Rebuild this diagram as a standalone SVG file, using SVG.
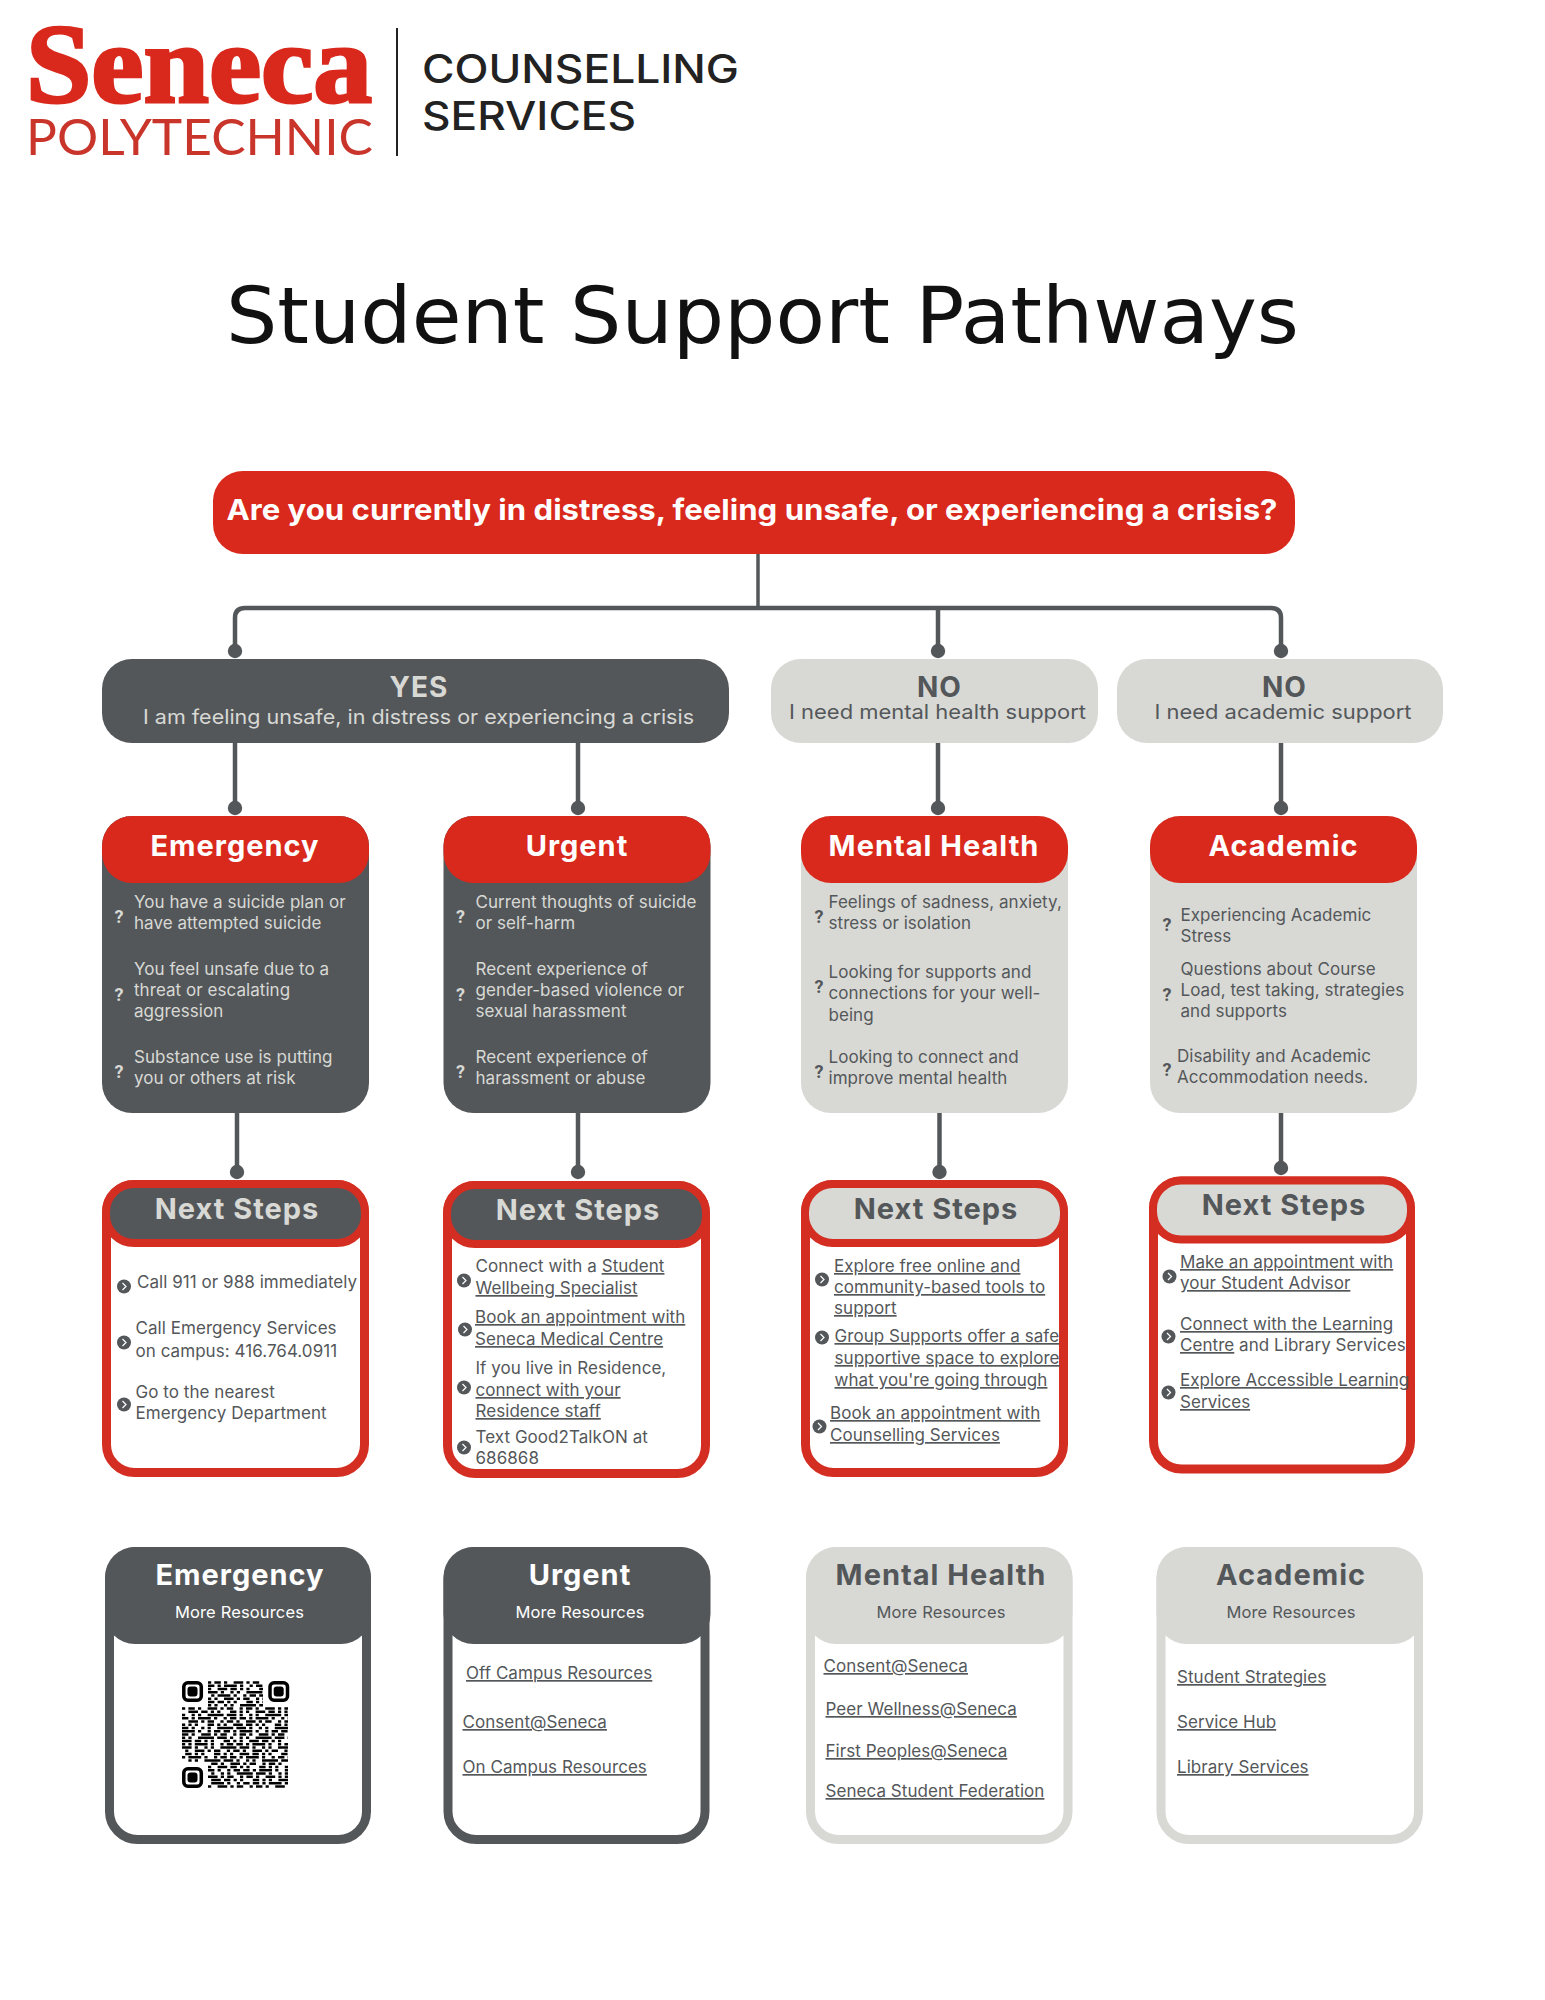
<svg xmlns="http://www.w3.org/2000/svg" width="1545" height="2000" viewBox="0 0 1545 2000">
<style>
text{font-family:Inter,"Noto Sans","Liberation Sans",sans-serif}
.red{fill:#d9281c}.dkf{fill:#54575a}.ltf{fill:#d8d9d5}
.b{font-size:17px;letter-spacing:.05px;fill:#54575a}
.bl{font-size:17px;letter-spacing:.05px;fill:#d8d9d5}
.u{text-decoration:underline}
.h{font-size:29px;font-weight:700;letter-spacing:1px;text-anchor:middle;fill:#fff}
.hd{fill:#54575a}.hl{fill:#d8d9d5}
.mr{font-size:16.5px;letter-spacing:.15px;text-anchor:middle}
.q{font-family:Roboto,sans-serif;font-size:18px;font-weight:700;text-anchor:middle}
.sub{font-size:20px}
.box{fill:#fff;stroke-width:9}
.r{stroke:#d42e22}.sd{stroke:#54575a}.sl{stroke:#d8d9d5}
.con{fill:none;stroke:#54575a;stroke-width:4.5;marker-end:url(#dot)}
.qr path{fill:none;stroke:#000;stroke-width:2.4}
.qa{stroke-dasharray:3.2 3.2 6.4 3.2 3.2 6.4 9.6 3.2 3.2 3.2 6.4 6.4}
.qb{stroke-dasharray:6.4 3.2 3.2 3.2 12.8 3.2 3.2 6.4 3.2 3.2 6.4 3.2}
.qc{stroke-dasharray:3.2 6.4 9.6 3.2 6.4 3.2 3.2 3.2 3.2 9.6 6.4 3.2 3.2 3.2}
.qd{stroke-dasharray:9.6 3.2 3.2 6.4 3.2 3.2 3.2 6.4 16 3.2}
</style>
<defs>
<marker id="dot" markerUnits="userSpaceOnUse" markerWidth="16" markerHeight="16" refX="8" refY="8"><circle cx="8" cy="8" r="7.2" fill="#54575a"/></marker>
<symbol id="bul" viewBox="-7.5 -7.5 15 15" overflow="visible"><circle r="7" fill="#54575a"/><path d="M-1.5 -3.5L2 0L-1.5 3.5" fill="none" stroke="#fff" stroke-width="1.2"/></symbol>
</defs>
<rect width="1545" height="2000" fill="#fff"/>

<g id="logo">
<text x="26" y="102" font-size="112" font-weight="700" textLength="346" lengthAdjust="spacingAndGlyphs" fill="#d9281c" stroke="#d9281c" stroke-width="3" style="font-family:'Liberation Serif',serif">Seneca</text>
<text x="26" y="155" font-size="50" font-weight="400" textLength="347" lengthAdjust="spacingAndGlyphs" fill="#c9352b" style="font-family:Lato,sans-serif">POLYTECHNIC</text>
<rect x="396" y="28" width="2" height="128" fill="#222"/>
<text x="422" y="83" font-size="39" font-weight="500" textLength="317" lengthAdjust="spacingAndGlyphs" fill="#222">COUNSELLING</text>
<text x="422" y="130" font-size="39" font-weight="500" textLength="214" lengthAdjust="spacingAndGlyphs" fill="#222">SERVICES</text>
</g>
<text id="title" x="226" y="343" font-size="78" textLength="1073" lengthAdjust="spacingAndGlyphs" fill="#111" style="font-family:'DejaVu Sans',sans-serif">Student Support Pathways</text>

<g id="connectors">
<path d="M758 554V608" fill="none" stroke="#54575a" stroke-width="3.500"/>
<path class="con" d="M758 608H245Q235 608 235 618V651"/>
<path class="con" d="M758 608H1271Q1281 608 1281 618V651"/>
<path class="con" d="M938 608V651"/>
<path class="con" d="M235 743V808"/>
<path class="con" d="M578 743V808"/>
<path class="con" d="M938 743V808"/>
<path class="con" d="M1281 743V808"/>
<path class="con" d="M237 1113V1172"/>
<path class="con" d="M578 1113V1172"/>
<path class="con" d="M939.500 1113V1172"/>
<path class="con" d="M1281 1113V1168"/>
</g>

<g id="question">
<rect x="213" y="471" width="1082" height="83" rx="30" class="red"/>
<text x="226.500" y="520" font-size="29" font-weight="700" textLength="1051" lengthAdjust="spacingAndGlyphs" fill="#fff">Are you currently in distress, feeling unsafe, or experiencing a crisis?</text>
</g>

<g id="yes">
<rect x="102" y="659" width="627" height="84" rx="30" class="dkf"/>
<text x="419" y="697" font-size="28" font-weight="700" letter-spacing="1" text-anchor="middle" class="hl">YES</text>
<text x="143" y="724" class="sub hl" textLength="551" lengthAdjust="spacingAndGlyphs">I am feeling unsafe, in distress or experiencing a crisis</text>
</g>
<g id="no-mental">
<rect x="771" y="659" width="327" height="84" rx="30" class="ltf"/>
<text x="939.500" y="697" font-size="28" font-weight="700" letter-spacing="1" text-anchor="middle" class="hd">NO</text>
<text x="789" y="719" class="sub hd" textLength="297" lengthAdjust="spacingAndGlyphs">I need mental health support</text>
</g>
<g id="no-academic">
<rect x="1117" y="659" width="326" height="84" rx="30" class="ltf"/>
<text x="1284.500" y="697" font-size="28" font-weight="700" letter-spacing="1" text-anchor="middle" class="hd">NO</text>
<text x="1154.500" y="719" class="sub hd" textLength="257" lengthAdjust="spacingAndGlyphs">I need academic support</text>
</g>

<g id="card-emergency">
<rect x="102" y="816" width="267" height="297" rx="30" class="dkf"/>
<rect x="102" y="816" width="267" height="67" rx="30" class="red"/>
<text x="235" y="856" class="h">Emergency</text>
<text x="119" y="923" class="q hl">?</text>
<text x="134" y="908" class="bl">You have a suicide plan or</text>
<text x="134" y="929" class="bl">have attempted suicide</text>
<text x="119" y="1001" class="q hl">?</text>
<text x="134" y="975" class="bl">You feel unsafe due to a</text>
<text x="134" y="996" class="bl">threat or escalating</text>
<text x="134" y="1017" class="bl">aggression</text>
<text x="119" y="1078" class="q hl">?</text>
<text x="134" y="1063" class="bl">Substance use is putting</text>
<text x="134" y="1084" class="bl">you or others at risk</text>
</g>
<g id="card-urgent">
<rect x="443.500" y="816" width="267" height="297" rx="30" class="dkf"/>
<rect x="443.500" y="816" width="267" height="67" rx="30" class="red"/>
<text x="577" y="856" class="h">Urgent</text>
<text x="460.500" y="923" class="q hl">?</text>
<text x="475.500" y="908" class="bl">Current thoughts of suicide</text>
<text x="475.500" y="929" class="bl">or self-harm</text>
<text x="460.500" y="1001" class="q hl">?</text>
<text x="475.500" y="975" class="bl">Recent experience of</text>
<text x="475.500" y="996" class="bl">gender-based violence or</text>
<text x="475.500" y="1017" class="bl">sexual harassment</text>
<text x="460.500" y="1078" class="q hl">?</text>
<text x="475.500" y="1063" class="bl">Recent experience of</text>
<text x="475.500" y="1084" class="bl">harassment or abuse</text>
</g>
<g id="card-mental">
<rect x="801" y="816" width="267" height="297" rx="30" class="ltf"/>
<rect x="801" y="816" width="267" height="67" rx="30" class="red"/>
<text x="934" y="856" class="h">Mental Health</text>
<text x="819" y="923" class="q hd">?</text>
<text x="828.500" y="908" class="b">Feelings of sadness, anxiety,</text>
<text x="828.500" y="929" class="b">stress or isolation</text>
<text x="819" y="993" class="q hd">?</text>
<text x="828.500" y="978" class="b">Looking for supports and</text>
<text x="828.500" y="999" class="b">connections for your well-</text>
<text x="828.500" y="1021" class="b">being</text>
<text x="819" y="1078" class="q hd">?</text>
<text x="828.500" y="1063" class="b">Looking to connect and</text>
<text x="828.500" y="1084" class="b">improve mental health</text>
</g>
<g id="card-academic">
<rect x="1150" y="816" width="267" height="297" rx="30" class="ltf"/>
<rect x="1150" y="816" width="267" height="67" rx="30" class="red"/>
<text x="1283.500" y="856" class="h">Academic</text>
<text x="1167" y="931" class="q hd">?</text>
<text x="1180.500" y="921" class="b">Experiencing Academic</text>
<text x="1180.500" y="942" class="b">Stress</text>
<text x="1167" y="1001" class="q hd">?</text>
<text x="1180.500" y="975" class="b">Questions about Course</text>
<text x="1180.500" y="996" class="b">Load, test taking, strategies</text>
<text x="1180.500" y="1017" class="b">and supports</text>
<text x="1167" y="1076" class="q hd">?</text>
<text x="1177" y="1062" class="b">Disability and Academic</text>
<text x="1177" y="1083" class="b">Accommodation needs.</text>
</g>

<g id="next-emergency">
<rect x="106.500" y="1184.500" width="258" height="288" rx="28" class="box r"/>
<rect x="106" y="1184" width="259" height="59" rx="28" class="dkf r" stroke-width="8"/>
<text x="237" y="1219" class="h hl">Next Steps</text>
<use href="#bul" x="116.500" y="1279" width="15" height="15"/>
<text x="137" y="1288" class="b">Call 911 or 988 immediately</text>
<use href="#bul" x="116.500" y="1335" width="15" height="15"/>
<text x="135.500" y="1334" class="b">Call Emergency Services</text>
<text x="135.500" y="1357" class="b">on campus: 416.764.0911</text>
<use href="#bul" x="116.500" y="1397" width="15" height="15"/>
<text x="135.500" y="1398" class="b">Go to the nearest</text>
<text x="135.500" y="1419" class="b">Emergency Department</text>
</g>
<g id="next-urgent">
<rect x="447.500" y="1185.500" width="258" height="288" rx="28" class="box r"/>
<rect x="447" y="1185" width="259" height="59" rx="28" class="dkf r" stroke-width="8"/>
<text x="578" y="1220" class="h hl">Next Steps</text>
<use href="#bul" x="456.500" y="1273" width="15" height="15"/>
<text x="475.500" y="1272" class="b">Connect with a <tspan class="u">Student</tspan></text>
<text x="475.500" y="1294" class="b u">Wellbeing Specialist</text>
<use href="#bul" x="457.500" y="1322" width="15" height="15"/>
<text x="475" y="1323" class="b u">Book an appointment with</text>
<text x="475" y="1345" class="b u">Seneca Medical Centre</text>
<use href="#bul" x="456.500" y="1380" width="15" height="15"/>
<text x="475.500" y="1374" class="b">If you live in Residence,</text>
<text x="475.500" y="1396" class="b u">connect with your</text>
<text x="475.500" y="1417" class="b u">Residence staff</text>
<use href="#bul" x="456.500" y="1440" width="15" height="15"/>
<text x="475.500" y="1443" class="b">Text Good2TalkON at</text>
<text x="475.500" y="1464" class="b">686868</text>
</g>
<g id="next-mental">
<rect x="805.500" y="1184.500" width="258" height="288" rx="28" class="box r"/>
<rect x="805" y="1184" width="259" height="59" rx="28" class="ltf r" stroke-width="8"/>
<text x="936" y="1219" class="h hd">Next Steps</text>
<use href="#bul" x="814.500" y="1272" width="15" height="15"/>
<text x="834" y="1272" class="b u">Explore free online and</text>
<text x="834" y="1293" class="b u">community-based tools to</text>
<text x="834" y="1314" class="b u">support</text>
<use href="#bul" x="814.500" y="1330" width="15" height="15"/>
<text x="834.500" y="1342" class="b u">Group Supports offer a safe</text>
<text x="834.500" y="1364" class="b u">supportive space to explore</text>
<text x="834.500" y="1386" class="b u">what you're going through</text>
<use href="#bul" x="812" y="1419" width="15" height="15"/>
<text x="830" y="1419" class="b u">Book an appointment with</text>
<text x="830" y="1441" class="b u">Counselling Services</text>
</g>
<g id="next-academic">
<rect x="1153.500" y="1181" width="257" height="288" rx="28" class="box r"/>
<rect x="1153" y="1180.500" width="258" height="59" rx="28" class="ltf r" stroke-width="8"/>
<text x="1284" y="1215" class="h hd">Next Steps</text>
<use href="#bul" x="1162" y="1269" width="15" height="15"/>
<text x="1180" y="1268" class="b u">Make an appointment with</text>
<text x="1180" y="1289" class="b u">your Student Advisor</text>
<use href="#bul" x="1161" y="1329" width="15" height="15"/>
<text x="1180" y="1330" class="b u">Connect with the Learning</text>
<text x="1180" y="1351" class="b"><tspan class="u">Centre</tspan> and Library Services</text>
<use href="#bul" x="1161" y="1385" width="15" height="15"/>
<text x="1180" y="1386" class="b u">Explore Accessible Learning</text>
<text x="1180" y="1408" class="b u">Services</text>
</g>

<g id="res-emergency">
<rect x="109.500" y="1551.500" width="257" height="288" rx="28" class="box sd"/>
<rect x="105" y="1547" width="266" height="97" rx="30" class="dkf"/>
<text x="240" y="1585" class="h">Emergency</text>
<text x="239.500" y="1618" class="mr" fill="#fff">More Resources</text>
<g class="qr">
<rect x="183.800" y="1682.800" width="17.500" height="17.500" rx="4" fill="#fff" stroke="#000" stroke-width="3.500"/>
<rect x="187.500" y="1686.500" width="10" height="10" rx="3" fill="#000"/>
<rect x="270" y="1682.800" width="17.500" height="17.500" rx="4" fill="#fff" stroke="#000" stroke-width="3.500"/>
<rect x="273.700" y="1686.500" width="10" height="10" rx="3" fill="#000"/>
<rect x="183.800" y="1768.800" width="17.500" height="17.500" rx="4" fill="#fff" stroke="#000" stroke-width="3.500"/>
<rect x="187.500" y="1772.500" width="10" height="10" rx="3" fill="#000"/>
<path class="qa" d="M208 1682.500H263"/>
<path class="qb" d="M208 1685.750H263"/>
<path class="qc" d="M208 1689H263"/>
<path class="qd" d="M208 1692.250H263"/>
<path class="qb" stroke-dashoffset="6.400" d="M208 1695.500H263"/>
<path class="qa" stroke-dashoffset="9.600" d="M208 1698.750H263"/>
<path class="qc" stroke-dashoffset="12.800" d="M208 1702H263"/>
<path class="qd" stroke-dashoffset="6.400" d="M208 1705.250H263"/>
<path class="qa" d="M182 1708.500H288"/>
<path class="qc" stroke-dashoffset="3.200" d="M182 1711.750H288"/>
<path class="qd" stroke-dashoffset="12.800" d="M182 1715H288"/>
<path class="qb" d="M182 1718.250H288"/>
<path class="qa" stroke-dashoffset="19.200" d="M182 1721.500H288"/>
<path class="qc" stroke-dashoffset="25.600" d="M182 1724.750H288"/>
<path class="qd" stroke-dashoffset="3.200" d="M182 1728H288"/>
<path class="qb" stroke-dashoffset="16" d="M182 1731.250H288"/>
<path class="qa" stroke-dashoffset="6.400" d="M182 1734.500H288"/>
<path class="qd" stroke-dashoffset="22.400" d="M182 1737.750H288"/>
<path class="qc" stroke-dashoffset="9.600" d="M182 1741H288"/>
<path class="qb" stroke-dashoffset="3.200" d="M182 1744.250H288"/>
<path class="qd" d="M182 1747.500H288"/>
<path class="qa" stroke-dashoffset="12.800" d="M182 1750.750H288"/>
<path class="qc" stroke-dashoffset="19.200" d="M182 1754H288"/>
<path class="qb" stroke-dashoffset="9.600" d="M182 1757.250H288"/>
<path class="qd" stroke-dashoffset="16" d="M182 1760.500H288"/>
<path class="qa" stroke-dashoffset="3.200" d="M208 1763.750H288"/>
<path class="qc" d="M208 1767H288"/>
<path class="qb" stroke-dashoffset="22.400" d="M208 1770.250H288"/>
<path class="qd" stroke-dashoffset="9.600" d="M208 1773.500H288"/>
<path class="qa" stroke-dashoffset="25.600" d="M208 1776.750H288"/>
<path class="qc" stroke-dashoffset="6.400" d="M208 1780H288"/>
<path class="qb" stroke-dashoffset="12.800" d="M208 1783.250H288"/>
<path class="qa" stroke-dashoffset="16" d="M208 1786.500H288"/>
</g>
</g>
<g id="res-urgent">
<rect x="448" y="1551.500" width="257" height="288" rx="28" class="box sd"/>
<rect x="443.500" y="1547" width="267" height="97" rx="30" class="dkf"/>
<text x="580" y="1585" class="h">Urgent</text>
<text x="580" y="1618" class="mr" fill="#fff">More Resources</text>
<text x="466" y="1679" class="b u">Off Campus Resources</text>
<text x="462.500" y="1728" class="b u">Consent@Seneca</text>
<text x="462.500" y="1773" class="b u">On Campus Resources</text>
</g>
<g id="res-mental">
<rect x="810.500" y="1551.500" width="257.500" height="288" rx="28" class="box sl"/>
<rect x="806" y="1547" width="266.500" height="97" rx="30" class="ltf"/>
<text x="941" y="1585" class="h hd">Mental Health</text>
<text x="941" y="1618" class="mr hd">More Resources</text>
<text x="823.500" y="1672" class="b u">Consent@Seneca</text>
<text x="825.500" y="1715" class="b u">Peer Wellness@Seneca</text>
<text x="825.500" y="1757" class="b u">First Peoples@Seneca</text>
<text x="825.500" y="1797" class="b u">Seneca Student Federation</text>
</g>
<g id="res-academic">
<rect x="1161" y="1551.500" width="257.500" height="288" rx="28" class="box sl"/>
<rect x="1156.500" y="1547" width="266.500" height="97" rx="30" class="ltf"/>
<text x="1291" y="1585" class="h hd">Academic</text>
<text x="1291" y="1618" class="mr hd">More Resources</text>
<text x="1177" y="1683" class="b u">Student Strategies</text>
<text x="1177" y="1728" class="b u">Service Hub</text>
<text x="1177" y="1773" class="b u">Library Services</text>
</g>
</svg>
